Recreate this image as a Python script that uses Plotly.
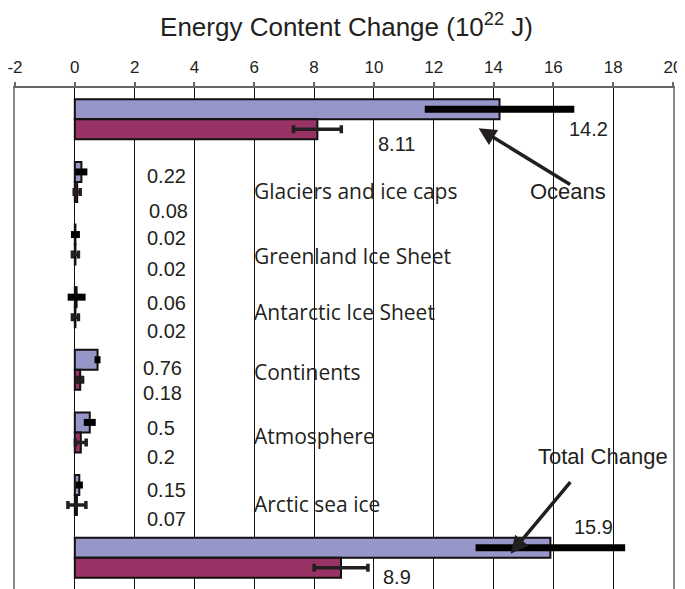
import plotly.graph_objects as go

categories = ["Oceans", "Glaciers and ice caps", "Greenland Ice Sheet",
              "Antarctic Ice Sheet", "Continents", "Atmosphere",
              "Arctic sea ice", "Total Change"]
series_a = [14.2, 0.22, 0.02, 0.06, 0.76, 0.5, 0.15, 15.9]
series_a_err = [2.5, 0.2, 0.15, 0.3, 0.1, 0.2, 0.12, 2.5]
series_b = [8.11, 0.08, 0.02, 0.02, 0.18, 0.2, 0.07, 8.9]
series_b_err = [0.8, 0.1, 0.1, 0.1, 0.08, 0.18, 0.3, 0.9]
labels_a = ["14.2", "0.22", "0.02", "0.06", "0.76", "0.5", "0.15", "15.9"]
labels_b = ["8.11", "0.08", "0.02", "0.02", "0.18", "0.2", "0.07", "8.9"]
x_ticks = [-2, 0, 2, 4, 6, 8, 10, 12, 14, 16, 18, 20]
x_tick_text = ["-2", "0", "2", "4", "6", "8", "10", "12", "14", "16", "18", "20"]

BLUE = "#9696c8"
MAROON = "#993366"
NUM_FONT = dict(family="Liberation Sans, Arial", size=20, color="#231f20")
CAT_FONT = dict(family="Open Sans", size=21, color="#231f20")

# page body has an 8px default margin; figure is sized to fit the window
PAGE_OFF = 8
FIG_W, FIG_H = 685 - PAGE_OFF, 589 - PAGE_OFF

fig = go.Figure()
fig.add_trace(go.Bar(
    y=categories, x=series_a, orientation="h", name="a",
    marker=dict(color=BLUE, line=dict(color="#111111", width=2)),
    error_x=dict(type="data", array=series_a_err, color="#000000",
                 thickness=7, width=0),
))
fig.add_trace(go.Bar(
    y=categories, x=series_b, orientation="h", name="b",
    marker=dict(color=MAROON, line=dict(color="#111111", width=2)),
    error_x=dict(type="data", array=series_b_err, color="#231f20",
                 thickness=3.5, width=4),
))

annotations = []
# value label placement (x in data units, y shift in px)
a_pos = [(17.17, "center", -10), (2.33, "left", 6), (2.33, "left", 7),
         (2.33, "left", 4), (2.2, "left", 2), (2.33, "left", 4),
         (2.33, "left", 5), (17.33, "center", 31)]
b_pos = [(10.77, "center", -25), (2.4, "left", -29), (2.33, "left", -24),
         (2.33, "left", -24), (2.2, "left", -23), (2.33, "left", -25),
         (2.33, "left", -24), (10.77, "center", -19)]
for cat, lab, (px, anc, ys) in zip(categories, labels_a, a_pos):
    annotations.append(dict(x=px, y=cat, xref="x", yref="y", text=lab,
                            showarrow=False, xanchor=anc, yanchor="middle",
                            yshift=ys, font=NUM_FONT))
for cat, lab, (px, anc, ys) in zip(categories, labels_b, b_pos):
    annotations.append(dict(x=px, y=cat, xref="x", yref="y", text=lab,
                            showarrow=False, xanchor=anc, yanchor="middle",
                            yshift=ys, font=NUM_FONT))

cat_shift = [None, -9, -11, -5, -2, -4, -9, None]
for cat, ys in zip(categories, cat_shift):
    if ys is None:
        continue
    annotations.append(dict(x=5.93, y=cat, xref="x", yref="y", text=cat,
                            showarrow=False, xanchor="left", yanchor="middle",
                            yshift=ys, font=CAT_FONT))

BIG_FONT = dict(family="Liberation Sans, Arial", size=22, color="#231f20")
# Oceans label + arrow
annotations.append(dict(x=16.5, y=categories[1], xref="x", yref="y",
                        text=categories[0], showarrow=False, yshift=-10,
                        font=BIG_FONT))
annotations.append(dict(x=13.5, y=categories[0], xref="x", yref="y", text="",
                        showarrow=True, ax=93, ay=57, yshift=-9,
                        arrowhead=2, arrowsize=1.0, arrowwidth=3.5,
                        arrowcolor="#231f20"))
# Total change label + arrow
annotations.append(dict(x=17.67, y=categories[7], xref="x", yref="y",
                        text=categories[7], showarrow=False, yshift=101,
                        font=BIG_FONT))
annotations.append(dict(x=14.57, y=categories[7], xref="x", yref="y", text="",
                        showarrow=True, ax=61, ay=-73, yshift=4,
                        arrowhead=2, arrowsize=1.0, arrowwidth=3.5,
                        arrowcolor="#231f20"))

fig.update_layout(
    width=FIG_W, height=FIG_H,
    margin=dict(l=15 - PAGE_OFF, r=12, t=88 - PAGE_OFF, b=0, autoexpand=False),
    paper_bgcolor="white", plot_bgcolor="white",
    barmode="group", bargap=0.36, bargroupgap=0,
    showlegend=False,
    title=dict(text="Energy Content Change (10<sup>22</sup> J)",
               x=0.5, xanchor="center", y=1 - (27 - PAGE_OFF) / FIG_H,
               yanchor="middle",
               font=dict(family="Liberation Sans, Arial", size=26,
                         color="#231f20"), automargin=False),
    annotations=annotations,
    xaxis=dict(side="top", range=[-2, 20], tickvals=x_ticks,
               ticktext=x_tick_text, automargin=False,
               ticklabeloverflow="allow",
               ticks="outside", ticklen=4, tickcolor="#666666", tickwidth=1.5,
               showline=True, linecolor="#666666", linewidth=2,
               showgrid=True, gridcolor="#111111", gridwidth=1,
               zeroline=False, ticklabelstandoff=2,
               tickfont=dict(family="Liberation Sans, Arial",
                             size=17, color="#231f20")),
    yaxis=dict(categoryorder="array", categoryarray=categories,
               range=[7.5, -0.5], showticklabels=False, ticks="",
               showgrid=False, zeroline=False, automargin=False,
               showline=True, mirror=True, linecolor="#888888", linewidth=2),
)

fig.write_html("out.html")
